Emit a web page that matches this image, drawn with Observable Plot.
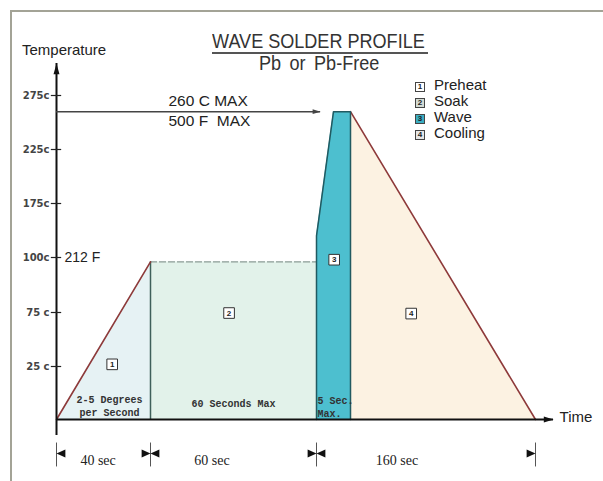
<!DOCTYPE html>
<html>
<head>
<meta charset="utf-8">
<script src="https://cdn.jsdelivr.net/npm/d3@7"></script>
<script src="https://cdn.jsdelivr.net/npm/@observablehq/plot@0.6"></script>
<style>
html, body { margin: 0; padding: 0; background: #fff; }
#wrap { position: relative; width: 603px; height: 481px; overflow: hidden; font-family: "Liberation Sans", Arial, sans-serif; color: #222; background: #fff; }
#frame { position: absolute; left: 10px; top: 10px; width: 620px; height: 500px; border-left: 2px solid #a3a396; border-top: 2px solid #a3a396; }
#chart { position: absolute; left: 0; top: 0; }
.narrow { position: absolute; white-space: nowrap; font-size: 21px; line-height: 21px; transform: scaleX(0.86); transform-origin: 0 0; color: #333; }
#underline { position: absolute; left: 212px; top: 52px; width: 216px; height: 2px; background: #555; }
#ylabel { position: absolute; left: 22px; top: 42px; font-size: 15px; line-height: 15px; color: #222; }
#legend { position: absolute; left: 415px; top: 77px; }
.row { height: 16px; line-height: 16px; font-size: 15px; white-space: nowrap; color: #222; }
.box { display: inline-block; box-sizing: border-box; width: 10px; height: 10px; border: 1px solid #444; font-size: 8px; line-height: 8px; font-weight: bold; text-align: center; vertical-align: 1px; margin-right: 9px; }
</style>
</head>
<body>
<div id="wrap">
  <div id="frame"></div>
  <div id="chart"></div>
  <div class="narrow" id="title" style="left:212px; top:30px;"></div>
  <div id="underline"></div>
  <div class="narrow" id="subtitle" style="left:259px; top:52px; word-spacing:4px;"></div>
  <div id="ylabel"></div>
  <div id="legend"></div>
</div>
<script>
// ---- data ----
const titleText = "WAVE SOLDER PROFILE";
const subtitleText = "Pb or Pb-Free";
const yLabel = "Temperature";
const xLabel = "Time";

const phaseNames = ["Preheat", "Soak", "Wave", "Cooling"];
const phaseNumbers = ["1", "2", "3", "4"];
const phaseBounds = [0, 40, 100, 105, 265];          // schematic seconds

// outline of each phase (time, temperature °C)
const preheatTime = [0, 40];        const preheatTemp = [0, 98];
const soakTime = [40, 100];         const soakTemp = [98, 98];
const waveTime = [100, 100, 102.5, 105, 105]; const waveTemp = [0, 130, 260, 260, 0];
const coolTime = [105, 265];        const coolTemp = [260, 0];

const yTicks = [25, 75, 100, 175, 225, 275];
const yTickLabels = ["25 c", "75 c", "100c", "175c", "225c", "275c"];

const axisTimeEnd = 280.6;
const axisTempEnd = 304.6;
const axisTempStart = -7.5;

const peakTemp = 260;
const peakArrowEnd = 100.6;
const peakLabels = ["260 C MAX", "500 F\u00a0 MAX"];
const boilLabel = "212 F";

const badgeTime = [23.7, 68.4, 102.6, 157.5];
const badgeTemp = [27, 74.5, 99, 74];

const dimTimes = [0, 40, 100, 265];
const durationLabels = ["40 sec", "60 sec", "160 sec"];
const durationLabelAt = [17.7, 62.2, 145.2];

const preheatNote = "2-5 Degrees\nper Second";
const soakNote = "60 Seconds Max";
const waveNote = "5 Sec.\nMax.";

// ---- styles ----
const phaseFills = ["#e6f2f4", "#e2f2ea", "#4dbfcf", "#fcf2e2"];
const legendFills = ["#ffffff", "#d3dbd4", "#3aaec2", "#e6e6e6"];

// ---- build ----
document.getElementById("title").textContent = titleText;
document.getElementById("subtitle").textContent = subtitleText;
document.getElementById("ylabel").textContent = yLabel;
const legend = document.getElementById("legend");
phaseNames.forEach((p, i) => {
  const row = document.createElement("div");
  row.className = "row";
  const b = document.createElement("span");
  b.className = "box";
  b.style.background = legendFills[i];
  b.textContent = phaseNumbers[i];
  row.appendChild(b);
  row.appendChild(document.createTextNode(p));
  legend.appendChild(row);
});

const toRows = (name, ts, vs) => ts.map((t, j) => ({phase: name, t, v: vs[j]}));
const fills = [
  ...toRows("Preheat", preheatTime, preheatTemp),
  ...toRows("Soak", soakTime, soakTemp),
  ...toRows("Wave", waveTime.slice(1, 4), waveTemp.slice(1, 4)),
  ...toRows("Cooling", coolTime, coolTemp)
];
const redLines = [
  ...toRows("Preheat", preheatTime, preheatTemp),
  ...toRows("Cooling", coolTime, coolTemp)
];
const waveLine = toRows("Wave", waveTime, waveTemp);
const badges = phaseNumbers.map((n, i) => ({n, t: badgeTime[i], v: badgeTemp[i]}));
const durations = durationLabels.map((l, i) => ({l, t: durationLabelAt[i]}));

// custom symbols: arrowhead with tip at origin pointing up; vertical bar
const head = (w) => ({draw(ctx, size) { const s = Math.sqrt(size); ctx.moveTo(0, 0); ctx.lineTo(w * s, s); ctx.lineTo(-w * s, s); ctx.closePath(); }});
const vbar = {draw(ctx, size) { const s = Math.sqrt(size); ctx.moveTo(0, -s / 2); ctx.lineTo(0, s / 2); }};

const chart = Plot.plot({
  width: 603,
  height: 481,
  margin: 0,
  style: {background: "transparent", overflow: "visible"},
  x: {type: "linear", domain: phaseBounds, range: [56, 150, 316, 350, 535], axis: null},
  y: {type: "linear", domain: [0, ...yTicks], range: [419, 366, 312, 257, 203, 149, 95], axis: null},
  color: {domain: phaseNames, range: phaseFills},
  marks: [
    Plot.areaY(fills, {x: "t", y1: 0, y2: "v", z: "phase", fill: "phase"}),
    Plot.ruleY([soakTemp[0]], {x1: soakTime[0], x2: soakTime[1], stroke: "#8c9c96", strokeWidth: 1.2, strokeDasharray: "7,2"}),
    Plot.ruleX([soakTime[0]], {y1: 0, y2: soakTemp[0], stroke: "#3f605a", strokeWidth: 1.5}),
    Plot.line(redLines, {x: "t", y: "v", z: "phase", stroke: "#8e3a3a", strokeWidth: 1.6}),
    Plot.line(waveLine, {x: "t", y: "v", stroke: "#215a61", strokeWidth: 1.5}),
    // axes
    Plot.ruleX([0], {y1: axisTempStart, y2: axisTempEnd, stroke: "#111", strokeWidth: 2}),
    Plot.ruleY([0], {x1: 0, x2: axisTimeEnd, stroke: "#111", strokeWidth: 2}),
    Plot.dot([{t: 0, v: axisTempEnd}], {x: "t", y: "v", symbol: head(0.28), r: 6, fill: "#111", stroke: "none"}),
    Plot.dot([{t: axisTimeEnd, v: 0}], {x: "t", y: "v", symbol: head(0.3), r: 5.5, fill: "#111", stroke: "none", rotate: 90}),
    Plot.ruleY(yTicks, {x1: -2.2, x2: 2.2, stroke: "#222", strokeWidth: 1.2}),
    Plot.text(yTicks, {x: 0, y: d => d, text: (d, i) => yTickLabels[i], textAnchor: "end", dx: -7, fontSize: 10, fontWeight: "bold", fontFamily: "DejaVu Sans", fill: "#444"}),
    Plot.text([xLabel], {x: axisTimeEnd, y: 0, text: d => d, textAnchor: "start", dx: 6, dy: -2, fontSize: 15, fontFamily: "Liberation Sans", fill: "#222"}),
    // peak arrow
    Plot.ruleY([peakTemp], {x1: 0, x2: peakArrowEnd, stroke: "#444", strokeWidth: 1.4}),
    Plot.dot([{t: peakArrowEnd, v: peakTemp}], {x: "t", y: "v", symbol: head(0.3), r: 4.5, fill: "#444", stroke: "none", rotate: 90}),
    Plot.text([peakLabels[0]], {x: 46.5, y: peakTemp, text: d => d, textAnchor: "start", dy: -11, fontSize: 15.5, fontFamily: "Liberation Sans", fill: "#222"}),
    Plot.text([peakLabels[1]], {x: 46.5, y: peakTemp, text: d => d, textAnchor: "start", dy: 9, fontSize: 15.5, fontFamily: "Liberation Sans", fill: "#222"}),
    Plot.text([boilLabel], {x: 0, y: 100, text: d => d, textAnchor: "start", dx: 8, fontSize: 14, fontFamily: "Liberation Sans", fill: "#222"}),
    // notes
    Plot.text([preheatNote], {x: 22.5, y: 0, text: d => d, lineAnchor: "bottom", dy: -4, lineHeight: 1.25, fontSize: 10, fontWeight: "bold", fontFamily: "Liberation Mono", fill: "#333"}),
    Plot.text([soakNote], {x: 70, y: 0, text: d => d, lineAnchor: "bottom", dy: -13, fontSize: 10, fontWeight: "bold", fontFamily: "Liberation Mono", fill: "#333"}),
    Plot.text([waveNote], {x: 100, y: 0, text: d => d, textAnchor: "start", dx: 1, lineAnchor: "bottom", dy: -3, lineHeight: 1.25, fontSize: 10, fontWeight: "bold", fontFamily: "Liberation Mono", fill: "#333"}),
    // phase badges
    Plot.dot(badges, {x: "t", y: "v", symbol: "square", r: 6, fill: "white", stroke: "#333", strokeWidth: 1}),
    Plot.text(badges, {x: "t", y: "v", text: "n", fontSize: 8, fontWeight: "bold", fontFamily: "Liberation Sans", fill: "#222"}),
    // duration dimension row
    Plot.dot(dimTimes, {x: d => d, y: 0, dy: 35, symbol: vbar, r: 13.5, fill: "none", stroke: "#555", strokeWidth: 1}),
    Plot.dot(dimTimes.slice(1), {x: d => d, y: 0, dy: 34, symbol: head(0.45), r: 5, fill: "#111", stroke: "none", rotate: 90}),
    Plot.dot(dimTimes.slice(0, 3), {x: d => d, y: 0, dy: 34, symbol: head(0.45), r: 5, fill: "#111", stroke: "none", rotate: -90}),
    Plot.text(durations, {x: "t", y: 0, dy: 41, text: "l", fontSize: 14, fontFamily: "Liberation Serif", fill: "#222"})
  ]
});
document.getElementById("chart").appendChild(chart);
</script>
</body>
</html>
